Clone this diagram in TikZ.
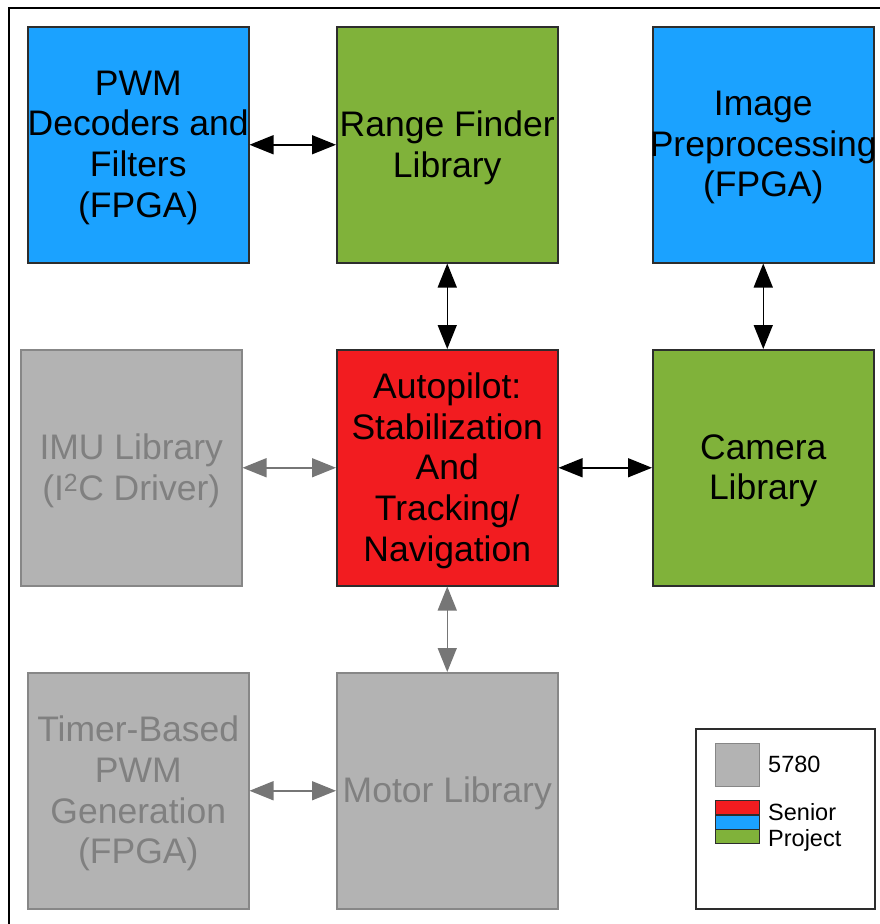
\documentclass[tikz,border=0pt]{standalone}
\usepackage{fontspec}
\setmainfont{Liberation Sans}
\usetikzlibrary{arrows.meta}
\definecolor{boxblue}{RGB}{27,162,255}
\definecolor{boxgreen}{RGB}{128,178,58}
\definecolor{boxred}{RGB}{242,28,32}
\definecolor{boxgray}{RGB}{179,179,179}
\definecolor{graytext}{RGB}{128,128,128}
\definecolor{grayedge}{RGB}{135,135,135}
\definecolor{edgedark}{RGB}{45,45,45}
\definecolor{grayarrow}{RGB}{118,118,118}
\begin{document}
\begin{tikzpicture}[x=1pt,y=-1pt,
  block/.style={draw=edgedark, line width=1.5pt, minimum width=221pt, minimum height=236pt,
    inner sep=0pt, anchor=north west},
  oldblock/.style={block, draw=grayedge, fill=boxgray},
  blocktext/.style={align=center, inner sep=0pt, text=black,
    font=\fontsize{35.5}{40.7}\selectfont},
  oldtext/.style={blocktext, text=graytext},
  link/.style={line width=1.5pt, black,
    arrows={Triangle[length=24pt,width=19pt]-Triangle[length=24pt,width=19pt]}},
  oldlink/.style={link, grayarrow},
  swatch/.style={draw=edgedark, line width=1.2pt, inner sep=0pt, anchor=north west,
    minimum width=44pt},
  legendtext/.style={anchor=base west, inner sep=0pt, font=\fontsize{23.5}{26}\selectfont}]

\useasboundingbox (0,0) rectangle (880,924);

% page frame (left and top edges)
\draw[line width=2.5pt] (9,924) -- (9,8) -- (880,8);

% top row
\node[block, fill=boxblue] (pwm) at (27,26) {};
\node[block, fill=boxgreen] (range) at (336,26) {};
\node[block, fill=boxblue] (img) at (652,26) {};

% middle row
\node[oldblock] (imu) at (20,349) {};
\node[block, fill=boxred] (auto) at (336,349) {};
\node[block, fill=boxgreen] (cam) at (652,349) {};

% bottom row
\node[oldblock] (timer) at (27,672) {};
\node[oldblock] (motor) at (336,672) {};

% block captions
\node[blocktext] (pwmtxt) at ([yshift=-3pt]pwm.center) {PWM\\Decoders and\\Filters\\(FPGA)};
\node[blocktext] (rangetxt) at ([yshift=-3pt]range.center) {Range Finder\\Library};
\node[blocktext] (imgtxt) at ([yshift=-3pt]img.center) {Image\\Preprocessing\\(FPGA)};
\node[oldtext] (imutxt) at ([yshift=-3pt]imu.center) {IMU Library\\(I\textsuperscript{2}C Driver)};
\node[blocktext] (autotxt) at ([yshift=-3pt]auto.center) {Autopilot:\\Stabilization\\And\\Tracking/\\Navigation};
\node[blocktext] (camtxt) at ([yshift=-3pt]cam.center) {Camera\\Library};
\node[oldtext] (timertxt) at ([yshift=-3pt]timer.center) {Timer-Based\\PWM\\Generation\\(FPGA)};
\node[oldtext] (motortxt) at ([yshift=-3pt]motor.center) {Motor Library};

% connections
\draw[link] (pwm.east) -- (range.west);
\draw[link] (range.south) -- (auto.north);
\draw[link] (img.south) -- (cam.north);
\draw[link] (auto.east) -- (cam.west);
\draw[oldlink] (imu.east) -- (auto.west);
\draw[oldlink] (auto.south) -- (motor.north);
\draw[oldlink] (timer.east) -- (motor.west);

% legend
\node[draw=edgedark, line width=1.5pt, anchor=north west, inner sep=0pt,
  minimum width=179pt, minimum height=180pt] (legend) at (695,728) {};
\node[swatch, draw=grayedge, fill=boxgray, minimum height=43pt] (swgray) at (715,743) {};
\node[swatch, fill=boxred, minimum height=14.3pt] (swred) at (715,800) {};
\node[swatch, fill=boxblue, minimum height=14.3pt] (swblue) at (715,814.3) {};
\node[swatch, fill=boxgreen, minimum height=14.3pt] (swgreen) at (715,828.6) {};
\node[legendtext] (lg1) at (768,772) {5780};
\node[legendtext] (lg2) at (768,820) {Senior};
\node[legendtext] (lg3) at (768,846) {Project};
\end{tikzpicture}
\end{document}
